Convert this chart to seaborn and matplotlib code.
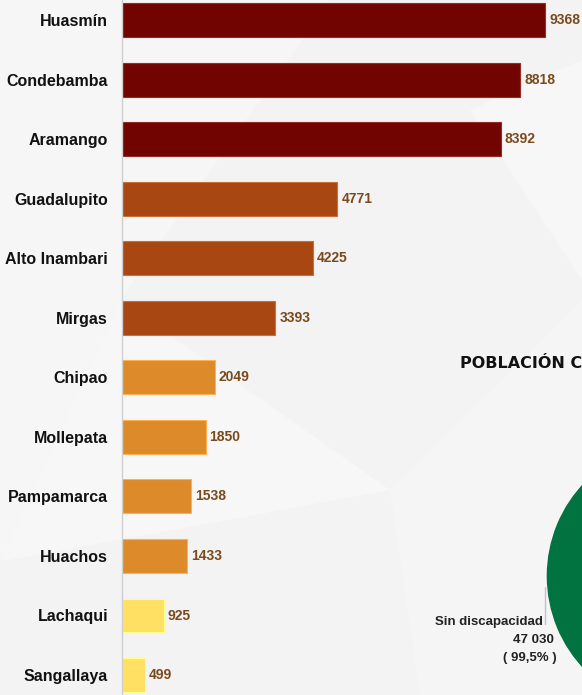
import matplotlib
matplotlib.use("Agg")
import matplotlib.pyplot as plt
import seaborn as sns
import pandas as pd
from matplotlib.patches import Polygon

# ---- data ----
districts = ["Huasmín", "Condebamba", "Aramango", "Guadalupito", "Alto Inambari", "Mirgas",
             "Chipao", "Mollepata", "Pampamarca", "Huachos", "Lachaqui", "Sangallaya"]
values = [9368, 8818, 8392, 4771, 4225, 3393, 2049, 1850, 1538, 1433, 925, 499]
bar_colors = ["#720400", "#720400", "#720400",
              "#A84712", "#A84712", "#A84712",
              "#DD8A2B", "#DD8A2B", "#DD8A2B", "#DD8A2B",
              "#FFE062", "#FFE062"]
pie_labels = ["Con discapacidad", "Sin discapacidad"]
pie_values = [236, 47030]
pie_colors = ["#E8A33A", "#007340"]

sns.set_theme(style="white")
plt.rcParams["font.family"] = ["Liberation Sans", "DejaVu Sans"]

W, H = 582, 695
fig = plt.figure(figsize=(W / 100, H / 100), dpi=100)
fig.patch.set_facecolor("#F3F3F3")

# subtle background geometry
bg = fig.add_axes([0, 0, 1, 1], zorder=-10)
bg.set_xlim(0, W); bg.set_ylim(H, 0); bg.axis("off")
polys = [
    ([(0, 0), (330, 0), (120, 300), (0, 560)], "#F6F6F6"),
    ([(0, 560), (120, 300), (390, 490), (10, 560)], "#F7F7F7"),
    ([(390, 490), (582, 300), (582, 695), (420, 695)], "#F5F5F5"),
    ([(470, 110), (582, 60), (582, 280)], "#F7F7F7"),
]
for pts, c in polys:
    bg.add_patch(Polygon(pts, closed=True, facecolor=c, edgecolor="none"))

# ---- bar axes ----
x0 = 122
scale = 423 / 9368  # px per unit
top_px = 20 - 0.5 * 59.55
bot_px = 20 + 11.5 * 59.55
ax = fig.add_axes([x0 / W, (H - bot_px) / H, (W - x0) / W, (bot_px - top_px) / H])
ax.set_facecolor("none")

df = pd.DataFrame({"district": districts, "value": values})
sns.barplot(data=df, x="value", y="district", hue="district", palette=bar_colors,
            orient="h", width=0.57, legend=False, ax=ax, saturation=1)

ax.set_xlim(0, (W - x0) / scale)
ax.set_ylim(11.5, -0.5)
ax.set_xlabel(""); ax.set_ylabel("")
ax.set_xticks([])
for s in ["top", "right", "bottom"]:
    ax.spines[s].set_visible(False)
ax.spines["left"].set_color("#CFCFCF")
ax.spines["left"].set_linewidth(1.0)

ax.set_yticks(range(len(districts)))
ax.set_yticklabels(districts, fontsize=11.5, fontweight="bold", color="#111111")
ax.tick_params(axis="y", which="major", length=0, pad=10)
ax.set_yticks([i + 0.5 for i in range(len(districts) - 1)], minor=True)
ax.tick_params(axis="y", which="minor", length=4, color="#CFCFCF", width=1)

for p in ax.patches:
    fc = p.get_facecolor()
    p.set_edgecolor(tuple(min(1, c + 0.15) for c in fc[:3]))
    p.set_linewidth(0.8)

for i, v in enumerate(values):
    ax.text(v + 90, i, f"{v}", va="center", ha="left", fontsize=10, fontweight="bold",
            color="#7A4A1C", clip_on=False)

# ---- right side: title and pie ----
fig.text(460 / W, 1 - 363 / H, "POBLACIÓN CON DISCAPACIDAD", fontsize=11.5,
         fontweight="heavy", color="#111111", va="center", ha="left",
         family=["DejaVu Sans"])

cx, cy, r = 681.7, 576, 135
pax = fig.add_axes([(cx - r) / W, (H - cy - r) / H, 2 * r / W, 2 * r / H])
pax.pie(pie_values, colors=pie_colors, startangle=-0.9, counterclock=True,
        wedgeprops=dict(edgecolor="none"))
pax.set_xlim(-1, 1); pax.set_ylim(-1, 1)
pax.set_aspect("auto")
pax.axis("off")

bg.plot([545, 545], [587, 624], color="#B8C4D4", lw=1)
bg.text(543, 622, "Sin discapacidad", ha="right", va="center", fontsize=9.5,
        fontweight="bold", color="#222222")
bg.text(554, 640, "47 030", ha="right", va="center", fontsize=9.5,
        fontweight="bold", color="#222222")
bg.text(557, 658, "( 99,5% )", ha="right", va="center", fontsize=9.5,
        fontweight="bold", color="#222222")

fig.savefig("out.png", dpi=100, facecolor=fig.get_facecolor())
